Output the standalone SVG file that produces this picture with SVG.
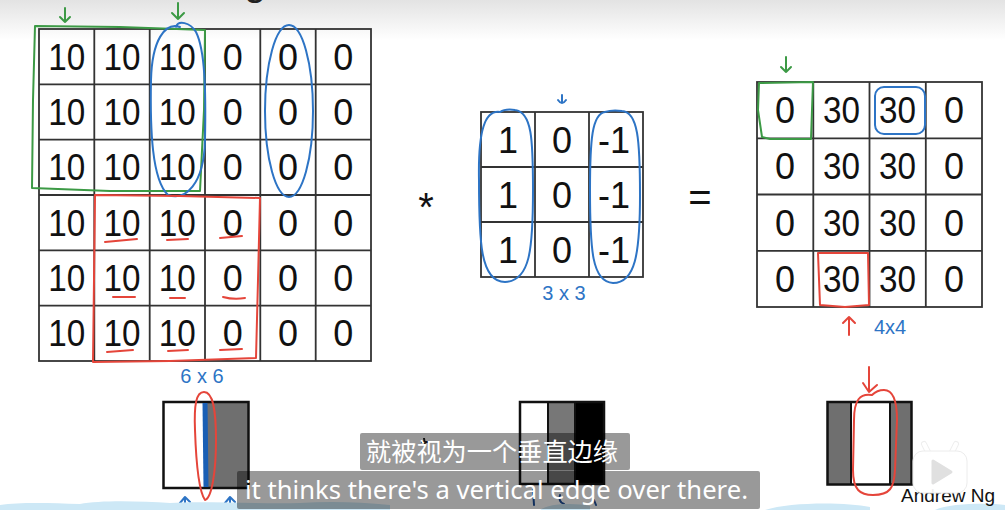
<svg xmlns="http://www.w3.org/2000/svg" width="1005" height="510" viewBox="0 0 1005 510">
<style>
.n{font-family:"Liberation Sans",Arial,sans-serif;font-size:36px;fill:#111;text-anchor:middle}
.grid{fill:none;stroke:#333;stroke-width:1.8}
.hg{fill:none;stroke:#3c9a45;stroke-width:2;stroke-linecap:round;stroke-linejoin:round}
.hb{fill:none;stroke:#2d74c5;stroke-width:2;stroke-linecap:round;stroke-linejoin:round}
.hr{fill:none;stroke:#e5453a;stroke-width:2;stroke-linecap:round;stroke-linejoin:round}
.lbl{font-family:"Liberation Sans",Arial,sans-serif;font-size:20px;fill:#2d74c5;text-anchor:middle}
.img{stroke:#111;stroke-width:2.5}
.sub{fill:#000;fill-opacity:0.4}
</style>
<defs>
<linearGradient id="topfade" x1="0" y1="0" x2="0" y2="40" gradientUnits="userSpaceOnUse">
<stop offset="0" stop-color="#e3e3e3"/>
<stop offset="1" stop-color="#ffffff"/>
</linearGradient>
</defs>
<rect width="1005" height="510" fill="#fff"/>
<rect width="1005" height="40" fill="url(#topfade)"/>
<text x="244" y="-5" font-family="Liberation Sans,Arial,sans-serif" font-size="40" fill="#222">g</text>

<!-- input 6x6 -->
<g id="input">
<rect class="grid" x="39" y="29" width="332" height="332"/>
<path class="grid" d="M94.3,29V361M149.7,29V361M205,29V361M260.3,29V361M315.7,29V361M39,84.3H371M39,139.7H371M39,195H371M39,250.3H371M39,305.7H371"/>
<g class="n">
<text x="66.7" y="69.7" textLength="37" lengthAdjust="spacingAndGlyphs">10</text><text x="122" y="69.7" textLength="37" lengthAdjust="spacingAndGlyphs">10</text><text x="177.3" y="69.7" textLength="37" lengthAdjust="spacingAndGlyphs">10</text><text x="232.7" y="69.7">0</text><text x="288" y="69.7">0</text><text x="343.3" y="69.7">0</text>
<text x="66.7" y="125" textLength="37" lengthAdjust="spacingAndGlyphs">10</text><text x="122" y="125" textLength="37" lengthAdjust="spacingAndGlyphs">10</text><text x="177.3" y="125" textLength="37" lengthAdjust="spacingAndGlyphs">10</text><text x="232.7" y="125">0</text><text x="288" y="125">0</text><text x="343.3" y="125">0</text>
<text x="66.7" y="180.3" textLength="37" lengthAdjust="spacingAndGlyphs">10</text><text x="122" y="180.3" textLength="37" lengthAdjust="spacingAndGlyphs">10</text><text x="177.3" y="180.3" textLength="37" lengthAdjust="spacingAndGlyphs">10</text><text x="232.7" y="180.3">0</text><text x="288" y="180.3">0</text><text x="343.3" y="180.3">0</text>
<text x="66.7" y="235.7" textLength="37" lengthAdjust="spacingAndGlyphs">10</text><text x="122" y="235.7" textLength="37" lengthAdjust="spacingAndGlyphs">10</text><text x="177.3" y="235.7" textLength="37" lengthAdjust="spacingAndGlyphs">10</text><text x="232.7" y="235.7">0</text><text x="288" y="235.7">0</text><text x="343.3" y="235.7">0</text>
<text x="66.7" y="291" textLength="37" lengthAdjust="spacingAndGlyphs">10</text><text x="122" y="291" textLength="37" lengthAdjust="spacingAndGlyphs">10</text><text x="177.3" y="291" textLength="37" lengthAdjust="spacingAndGlyphs">10</text><text x="232.7" y="291">0</text><text x="288" y="291">0</text><text x="343.3" y="291">0</text>
<text x="66.7" y="346.3" textLength="37" lengthAdjust="spacingAndGlyphs">10</text><text x="122" y="346.3" textLength="37" lengthAdjust="spacingAndGlyphs">10</text><text x="177.3" y="346.3" textLength="37" lengthAdjust="spacingAndGlyphs">10</text><text x="232.7" y="346.3">0</text><text x="288" y="346.3">0</text><text x="343.3" y="346.3">0</text>
</g>
</g>

<g id="op-star"><text x="426" y="221" font-family="Liberation Sans,Arial,sans-serif" font-size="40" fill="#111" text-anchor="middle">*</text></g>

<!-- filter 3x3 -->
<g id="filter">
<rect class="grid" x="481" y="112" width="162" height="165"/>
<path class="grid" d="M535,112V277M589,112V277M481,167H643M481,222H643"/>
<g class="n">
<text x="508" y="152.5">1</text><text x="562" y="152.5">0</text><text x="614" y="152.5">-1</text>
<text x="508" y="207.5">1</text><text x="562" y="207.5">0</text><text x="614" y="207.5">-1</text>
<text x="508" y="262.5">1</text><text x="562" y="262.5">0</text><text x="614" y="262.5">-1</text>
</g>
</g>

<g id="op-eq"><text x="700" y="211" font-family="Liberation Sans,Arial,sans-serif" font-size="40" fill="#111" text-anchor="middle">=</text></g>

<!-- output 4x4 -->
<g id="output">
<rect class="grid" x="757" y="82" width="225" height="225"/>
<path class="grid" d="M813.3,82V307M869.5,82V307M925.8,82V307M757,138.3H982M757,194.5H982M757,250.8H982"/>
<g class="n">
<text x="785.1" y="123.1">0</text><text x="841.4" y="123.1" textLength="37" lengthAdjust="spacingAndGlyphs">30</text><text x="897.6" y="123.1" textLength="37" lengthAdjust="spacingAndGlyphs">30</text><text x="953.9" y="123.1">0</text>
<text x="785.1" y="179.4">0</text><text x="841.4" y="179.4" textLength="37" lengthAdjust="spacingAndGlyphs">30</text><text x="897.6" y="179.4" textLength="37" lengthAdjust="spacingAndGlyphs">30</text><text x="953.9" y="179.4">0</text>
<text x="785.1" y="235.6">0</text><text x="841.4" y="235.6" textLength="37" lengthAdjust="spacingAndGlyphs">30</text><text x="897.6" y="235.6" textLength="37" lengthAdjust="spacingAndGlyphs">30</text><text x="953.9" y="235.6">0</text>
<text x="785.1" y="291.9">0</text><text x="841.4" y="291.9" textLength="37" lengthAdjust="spacingAndGlyphs">30</text><text x="897.6" y="291.9" textLength="37" lengthAdjust="spacingAndGlyphs">30</text><text x="953.9" y="291.9">0</text>
</g>
</g>

<!-- bottom images -->
<g id="img-input">
<rect x="163.5" y="402" width="85" height="86" fill="#fff"/>
<rect x="205" y="402" width="43.5" height="86" fill="#6f6f6f"/>
<rect class="img" x="163.5" y="402" width="85" height="86" fill="none"/>
<path d="M205,403 L206,487" stroke="#1a5fb4" stroke-width="5" fill="none"/>
</g>
<g id="img-filter">
<rect x="520" y="402" width="28" height="82" fill="#fff"/>
<rect x="548" y="402" width="27" height="82" fill="#777"/>
<rect x="575" y="402" width="29" height="82" fill="#000"/>
<rect class="img" x="520" y="402" width="84" height="82" fill="none"/>
<path d="M548,402V484M575,402V484" stroke="#111" stroke-width="2"/>
</g>
<g id="img-output">
<rect x="827.5" y="402" width="84" height="82.5" fill="#fff"/>
<rect x="827.5" y="402" width="23.5" height="82.5" fill="#6f6f6f"/>
<rect x="890" y="402" width="21.5" height="82.5" fill="#6f6f6f"/>
<rect class="img" x="827.5" y="402" width="84" height="82.5" fill="none"/>
<path d="M851,402V484.5M890,402V484.5" stroke="#111" stroke-width="2"/>
</g>

<!-- hand annotations -->
<g id="connectors">
<path class="hg" d="M35,26 L120,27 L205,30 L204,110 L200,191 L110,191 L32,188 L33,100 Z"/>
<path class="hg" d="M65,8 L65,22 M60,17 L65,22 L70,17"/>
<path class="hg" d="M178,3 L178,19 M172,13 L178,19 L184,13"/>
<path class="hg" d="M786,57 L786,72 M781,67 L786,72 L791,67"/>
<path class="hg" d="M759,83 L813,82 L812,110 L811,139 L770,139 L762,137 L758,110 Z"/>
<path class="hb" d="M180,27 C165,22 152,40 151,80 C150,130 152,180 168,195 C185,201 204,185 205,140 C206,90 205,50 196,32 C190,22 178,20 176,27"/>
<ellipse class="hb" cx="289" cy="111" rx="24" ry="86"/>
<path class="hb" d="M500,112 C485,110 478,130 479,180 C479,240 480,282 505,282 C530,281 533,250 533,190 C533,140 532,112 515,110 C508,109 503,110 500,112"/>
<path class="hb" d="M605,112 C592,114 590,140 590,190 C590,250 592,282 613,283 C635,283 640,255 640,195 C640,140 638,112 622,111 C615,110 608,111 605,112"/>
<path class="hb" d="M562,95 L562,103 M558,100 Q562,106 566,100"/>
<rect class="hb" x="875" y="87" width="50" height="47" rx="9"/>
<path class="hr" d="M95,195 L180,196 L260,198 L258,280 L256,358 L170,361 L93,362 L94,280 Z"/>
<path class="hr" d="M105,242 L137,239 M167,240 L188,239 M220,238 L242,236 M113,297 L135,297 M170,298 L185,298 M223,297 Q234,300 245,298 M107,352 L133,350 M168,351 L188,350 M220,350 L242,349"/>
<path class="hr" d="M818,253 L868,253 L869,305 L845,307 L820,305 Z"/>
<path class="hr" d="M849,335 L849,317 M843,323 L849,317 L855,323"/>
<path class="hr" d="M204,392 C196,392 194,405 195,430 C196,460 198,490 205,500 C212,498 216,470 216,440 C216,410 213,392 204,392 Z"/>
<path class="hr" d="M872,395 C860,393 854,400 854,420 L853,470 C853,490 860,495 873,495 C890,495 894,488 895,470 L897,420 C897,400 893,390 884,390 C878,390 874,393 872,395 Z"/>
<path class="hr" d="M869,367 L869,391 M863,383 L869,392 L877,385"/>
<path class="hb" d="M185,510 L185,498 M180,503 L185,497 L190,502"/>
<path class="hb" d="M230,510 L230,498 M225,503 L230,497 L235,502"/>
<path d="M533,490 L534,505 M560,495 Q558,502 564,504 M594,500 L596,505" fill="none" stroke="#1f4f9a" stroke-width="2" stroke-linecap="round"/>
<path d="M424,438 L425,446 M421,442 L428,442" fill="none" stroke="#222" stroke-width="2"/>
</g>

<g id="labels">
<text class="lbl" x="202" y="383">6 x 6</text>
<text class="lbl" x="564" y="300" font-size="17">3 x 3</text>
<text class="lbl" x="890" y="334">4x4</text>
</g>

<g id="footer">
<path d="M0,510 L0,505 C20,502 50,503 80,504 C100,500 140,501 170,503 C200,501 260,504 300,503 C330,501 360,502 390,505 L390,510 Z M540,510 C550,503 575,503 590,506 L590,510 Z M765,510 C790,502 845,502 870,507 L870,510 Z M935,510 C950,503 990,503 1005,505 L1005,510 Z" fill="#cde8f6"/>
<text x="901" y="501.5" font-family="Liberation Sans,Arial,sans-serif" font-size="19" fill="#111" textLength="94" lengthAdjust="spacingAndGlyphs">Andrew Ng</text>
</g>

<g id="watermark">
<path d="M928,452 L924,444 M952,452 L956,444" stroke="#eee" stroke-width="6" stroke-linecap="round"/>
<path d="M928,452 L924,444 M952,452 L956,444" stroke="#fff" stroke-width="4" stroke-linecap="round"/>
<rect x="913" y="451" width="54" height="42" rx="10" fill="#fff" fill-opacity="0.93" stroke="#ececec" stroke-width="1"/>
<path d="M933,461 L951,472 L933,483 Z" fill="#e0e0e0" stroke="#e0e0e0" stroke-width="3" stroke-linejoin="round"/>
</g>

<g id="subtitles">
<rect class="sub" x="360" y="433" width="270" height="37" rx="2"/>
<rect class="sub" x="237" y="471" width="523" height="38" rx="2"/>
<text x="366" y="461" font-family="Noto Sans CJK SC,Noto Sans,sans-serif" font-size="25" fill="#fff" textLength="252" lengthAdjust="spacingAndGlyphs">就被视为一个垂直边缘</text>
<text x="245" y="499" font-family="Noto Sans,Open Sans,sans-serif" font-size="25" fill="#fff" textLength="503" lengthAdjust="spacingAndGlyphs">it thinks there's a vertical edge over there.</text>
</g>
</svg>
